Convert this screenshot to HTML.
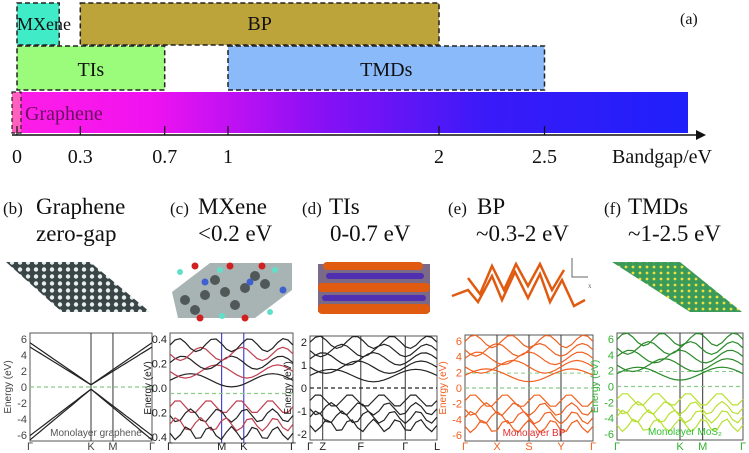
<!DOCTYPE html>
<html><head><meta charset="utf-8">
<style>
html,body{margin:0;padding:0;background:#fff;}
body{width:749px;height:453px;overflow:hidden;position:relative;font-family:"Liberation Serif",serif;}
svg{position:absolute;left:0;top:0;}
</style></head>
<body>
<svg width="749" height="453" viewBox="0 0 749 453">
<defs>
<linearGradient id="gg" x1="0" x2="1" y1="0" y2="0">
<stop offset="0" stop-color="#ff1ee6"/><stop offset="0.2" stop-color="#f012f0"/><stop offset="0.45" stop-color="#8a10f5"/><stop offset="0.7" stop-color="#3a1af8"/><stop offset="1" stop-color="#1f20fa"/>
</linearGradient>
<pattern id="hex" width="8" height="7" patternUnits="userSpaceOnUse">
<rect width="8" height="7" fill="#3a4547"/><circle cx="4" cy="3.5" r="2.2" fill="#e8eeee"/></pattern>
<pattern id="tmd" width="7" height="6" patternUnits="userSpaceOnUse">
<rect width="7" height="6" fill="#3a9a5a"/><circle cx="3" cy="3" r="1.4" fill="#eee040"/></pattern>
</defs>
<g id="top-chart"></g>

<g font-size="23" fill="#111">
<text x="3" y="214" font-size="17">(b)</text>
<text x="36" y="214">Graphene</text>
<text x="36" y="241">zero-gap</text>
<text x="170" y="214" font-size="17">(c)</text>
<text x="198" y="214">MXene</text>
<text x="198" y="241">&lt;0.2 eV</text>
<text x="302" y="214" font-size="17">(d)</text>
<text x="329" y="214">TIs</text>
<text x="330" y="241">0-0.7 eV</text>
<text x="448" y="214" font-size="17">(e)</text>
<text x="477" y="214">BP</text>
<text x="476" y="241">~0.3-2 eV</text>
<text x="604" y="214" font-size="17">(f)</text>
<text x="628" y="214">TMDs</text>
<text x="628" y="241">~1-2.5 eV</text>
</g>

<polygon points="6,262 90,262 150,312 62,312" fill="url(#hex)"/>
<g>
<polygon points="172,292 210,263 292,263 292,290 255,318 178,318" fill="#a8b4b4"/>
<g fill="#505858"><circle cx="185" cy="300" r="5"/><circle cx="205" cy="295" r="5"/><circle cx="225" cy="292" r="5"/><circle cx="245" cy="288" r="5"/><circle cx="265" cy="284" r="5"/><circle cx="195" cy="310" r="5"/><circle cx="235" cy="305" r="5"/><circle cx="215" cy="280" r="5"/><circle cx="255" cy="276" r="5"/></g>
<g fill="#4060d0"><circle cx="205" cy="282" r="3.5"/><circle cx="250" cy="282" r="3.5"/><circle cx="283" cy="290" r="3.5"/></g>
<g fill="#d02020"><circle cx="195" cy="266" r="3.5"/><circle cx="230" cy="266" r="3.5"/><circle cx="262" cy="266" r="3.5"/><circle cx="200" cy="318" r="3.5"/><circle cx="245" cy="318" r="3.5"/></g>
<g fill="#60e0c8"><circle cx="180" cy="272" r="3"/><circle cx="220" cy="270" r="3"/><circle cx="275" cy="270" r="3"/><circle cx="222" cy="316" r="3"/><circle cx="270" cy="312" r="3"/></g>
</g>
<g>
<rect x="318" y="264" width="112" height="48" fill="#7a6a88"/>
<g fill="#e05a10"><rect x="323" y="262" width="100" height="8" rx="4"/><rect x="318" y="283" width="112" height="9" rx="4"/><rect x="318" y="304" width="112" height="10" rx="4"/></g>
<g fill="#5030b0"><rect x="326" y="273" width="98" height="6" rx="3"/><rect x="322" y="295" width="104" height="6" rx="3"/></g>
</g>
<g stroke="#e05a10" stroke-width="2.5" fill="none">
<polyline points="452,296 468,290 478,302 492,276 502,300 515,272 528,298 540,274 550,302 562,280 574,306 585,300"/>
<polyline points="468,278 480,294 492,266 504,290 516,264 528,286 540,264 552,290 564,270"/>
</g>
<g stroke="#666" stroke-width="1" fill="none"><polyline points="572,258 572,277 588,277"/></g>
<text x="588" y="288" font-size="7" fill="#666">x</text>
<polygon points="612,262 680,262 742,312 690,312" fill="url(#tmd)"/>

<g id="bands"></g>
</svg>
<script>
// ===== top chart data =====
const categories = ['MXene','BP','TIs','TMDs','Graphene'];
const rangeStart = [0, 0.3, 0, 1, 0];
const rangeEnd   = [0.2, 2, 0.7, 2.5, 3.2];
const rowIndex   = [0, 0, 1, 1, 2];
const tickValues = [0, 0.3, 0.7, 1, 2, 2.5];
const tickLabels = ['0','0.3','0.7','1','2','2.5'];

const NS='http://www.w3.org/2000/svg';
function mk(tag, attrs, parent){const e=document.createElementNS(NS,tag);for(const k in attrs)e.setAttribute(k,attrs[k]);parent.appendChild(e);return e;}
const xs = v => 17 + v*211;
const rowTop = [3, 46, 92];
const rowH = [42, 44, 41];
const rowLabelY = [30, 76, 120];
const fills = ['#40ecc8','#bca43a','#9afc7a','#8abafa','url(#gg)'];
const g = document.getElementById('top-chart');
for(let i=0;i<categories.length;i++){
  const x0=xs(rangeStart[i]), x1=Math.min(xs(rangeEnd[i]),688);
  const r=rowIndex[i];
  const dashed = categories[i]!=='Graphene';
  const rect=mk('rect',{x:x0,y:rowTop[r],width:x1-x0,height:rowH[r],fill:fills[i],stroke:dashed?'#222':'none','stroke-width':1.5,'stroke-dasharray':'5,3'},g);
  
  
}
const pk=mk('rect',{x:12,y:92,width:9,height:41,fill:'#ff60c0',stroke:'#222','stroke-width':1.2,'stroke-dasharray':'4,3'},g);


for(let i=0;i<categories.length;i++){
  const mid=(xs(rangeStart[i])+Math.min(xs(rangeEnd[i]),688))/2;
  const t=mk('text',{x:i===0?17:(i===4?25:mid),y:rowLabelY[rowIndex[i]],'font-size':i===0?18:20,fill:i===4?'#6a1060':'#111','text-anchor':i===0||i===4?'start':'middle'},g);
  t.textContent = categories[i];
  
  
}
const ax=mk('line',{x1:12,y1:135,x2:700,y2:135,stroke:'#111','stroke-width':1.5},g);


const ar=mk('polygon',{points:'696,130 706,135 696,140',fill:'#111'},g);


tickValues.forEach((v,i)=>{
  const tk=mk('line',{x1:xs(v),y1:126,x2:xs(v),y2:135,stroke:'#111','stroke-width':1.2},g);
  
  
  const tl=mk('text',{x:xs(v),y:163,'font-size':20,'text-anchor':'middle',fill:'#111'},g);
  tl.textContent=tickLabels[i];
  
  
});
const xt=mk('text',{x:612,y:163,'font-size':20,fill:'#111'},g);
xt.textContent='Bandgap/eV';


const pa=mk('text',{x:680,y:24,'font-size':16,fill:'#111'},g);
pa.textContent='(a)';



// ===== band structure panels (decorative) =====
const B=document.getElementById('bands');
const panels=[
 {n:'graphene',x:30,y:333,w:122,h:108,c:'#222',zc:'#8c8',ticks:['6','4','2','0','-2','-4','-6'],k:['Γ','K','M','Γ'],kx:[0,0.5,0.68,1],tc:'#444',lab:'Monolayer graphene',lc:'#555'},
 {n:'mxene',x:170,y:333,w:123,h:110,c:'#222',zc:'#8c8',ticks:['0.4','0.2','0.0','-0.2','-0.4'],k:['Γ','M','K','Γ'],kx:[0,0.42,0.6,1],tc:'#222',lab:'',lc:'#000',vc:'#22c'},
 {n:'tis',x:310,y:336,w:127,h:104,c:'#222',zc:'#222',ticks:['2','1','0','-1','-2'],k:['Γ','Z','F','Γ','L'],kx:[0,0.1,0.4,0.75,1],tc:'#222',lab:''},
 {n:'bp',x:465,y:335,w:128,h:106,c:'#f06020',zc:'#8c8',ticks:['6','4','2','0','-2','-4','-6'],k:['Γ','X','S','Y','Γ'],kx:[0,0.25,0.5,0.75,1],tc:'#f06020',lab:'Monolayer BP',lc:'#e03030'},
 {n:'tmds',x:617,y:333,w:126,h:107,c:'#2a8a2a',zc:'#8c8',ticks:['6','4','2','0','-2','-4','-6'],k:['Γ','K','M','Γ'],kx:[0,0.5,0.68,1],tc:'#30b030',lab:'Monolayer MoS₂',lc:'#30c030'}
];
panels.forEach((p,pi)=>{
  const G=mk('g',{},B);
  
  
  mk('rect',{x:p.x,y:p.y,width:p.w,height:p.h,fill:'#fff',stroke:'#555','stroke-width':1},G);
  p.kx.forEach((f,i)=>{ if(f>0&&f<1) mk('line',{x1:p.x+f*p.w,y1:p.y,x2:p.x+f*p.w,y2:p.y+p.h,stroke:p.vc||'#333','stroke-width':1},G);
    const t=mk('text',{x:p.x+f*p.w,y:450,'font-size':11,'text-anchor':'middle',fill:p.tc,'font-family':'Liberation Sans, sans-serif'},G);t.textContent=p.k[i];});
  const nt=p.ticks.length;
  p.ticks.forEach((t,i)=>{const y=p.y+6+i*(p.h-12)/(nt-1);
    const e=mk('text',{x:p.x-3,y:y+4,'font-size':11,'text-anchor':'end',fill:p.tc,'font-family':'Liberation Sans, sans-serif'},G);e.textContent=t;});
  const yt=mk('text',{x:0,y:0,'font-size':10,'text-anchor':'middle',fill:p.tc,'font-family':'Liberation Sans, sans-serif',transform:`translate(${p.x-19},${p.y+p.h/2}) rotate(-90)`},G);yt.textContent='Energy (eV)';
  const z=p.y+p.h*(pi===1?0.55:0.5);
  mk('line',{x1:p.x,y1:z,x2:p.x+p.w,y2:z,stroke:p.zc,'stroke-width':1.2,'stroke-dasharray':'4,3'},G);
  if(pi===3||pi===4) mk('line',{x1:p.x,y1:p.y+p.h*0.36,x2:p.x+p.w,y2:p.y+p.h*0.36,stroke:'#8c8','stroke-width':1,'stroke-dasharray':'4,3'},G);
  const nb=pi===0?4:9;
  for(let b=0;b<nb;b++){
    let d='';
    const up = b<nb/2;
    for(let s=0;s<=24;s++){
      const f=s/24;
      let v;
      if(pi===0){ const k=Math.abs(f-0.5)*2; v=(up?1:-1)*(0.02+k*(0.35+b*0.04)); }
      else { v=(up?1:-1)*(0.12+ (b%5)*0.08 + 0.06*Math.sin((f*(3+b)+b)*Math.PI)); }
      const y=z - v*p.h;
      d+=(s?'L':'M')+(p.x+f*p.w).toFixed(1)+','+Math.max(p.y,Math.min(p.y+p.h,y)).toFixed(1);
    }
    const col = pi===4 ? (up?'#2a8a2a':'#b8e030') : (pi===1 && b%2 ? '#c04050' : p.c);
    mk('path',{d:d,fill:'none',stroke:col,'stroke-width':1.2},G);
  }
  if(p.lab){const t=mk('text',{x:p.x+p.w/2+5,y:p.y+p.h-5,'font-size':10,'text-anchor':'middle',fill:p.lc,'font-family':'Liberation Sans, sans-serif'},G);t.textContent=p.lab;}
});
</script>
</body></html>
